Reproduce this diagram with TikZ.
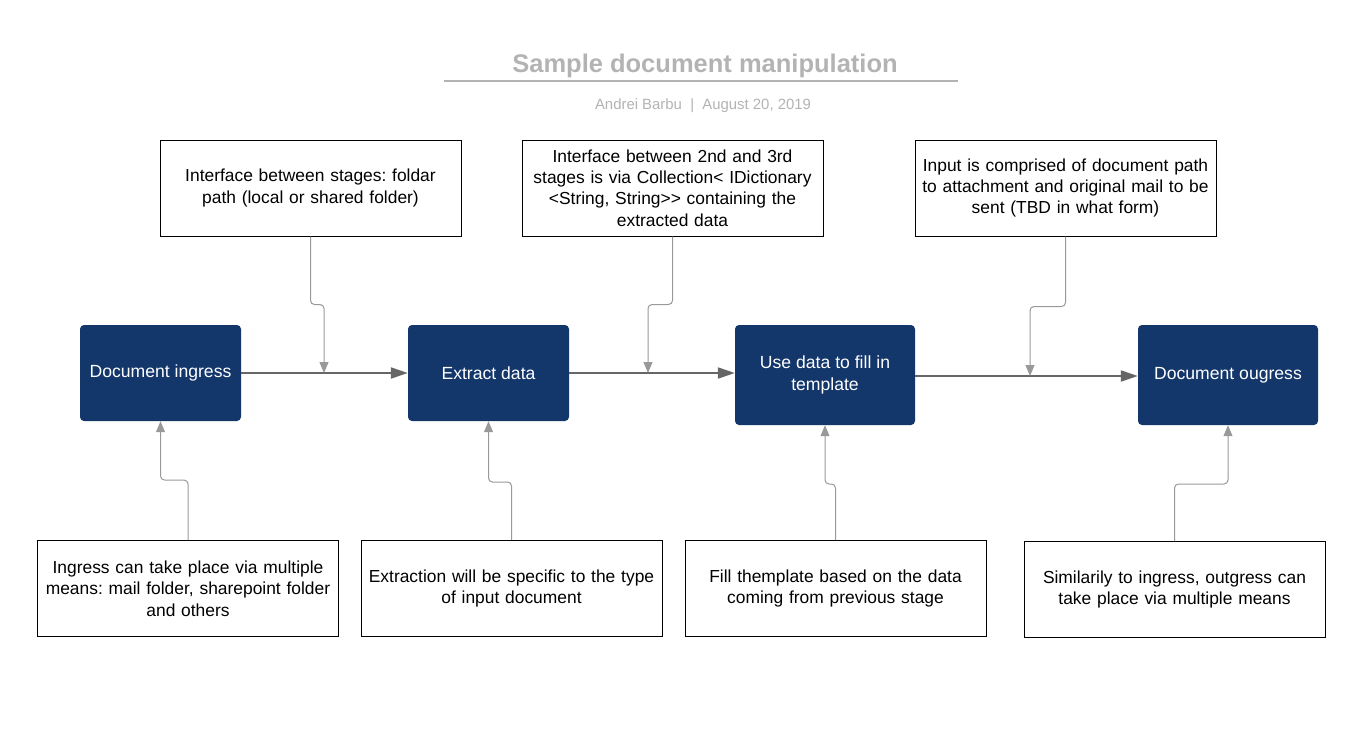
\documentclass[tikz,border=0pt]{standalone}
\usepackage{fontspec}
\setmainfont{Liberation Sans}
\usetikzlibrary{arrows.meta}
\frenchspacing
\definecolor{navy}{HTML}{13366B}
\definecolor{maingray}{HTML}{666666}
\definecolor{conngray}{HTML}{999999}
\definecolor{titlegray}{HTML}{B3B3B3}
\begin{document}
\begin{tikzpicture}[x=1pt,y=-1pt,
  note/.style={draw=black,line width=1pt,fill=white,minimum width=301pt,minimum height=96pt,
    text width=300pt,align=center,font=\fontsize{17.4}{21.3}\selectfont,inner sep=0pt},
  stage/.style={fill=navy,rounded corners=4pt,text=white,align=center,
    font=\fontsize{17.6}{21.3}\selectfont,inner sep=0pt},
  mainarrow/.style={draw=maingray,line width=2pt,-{Triangle[length=17pt,width=11pt]}},
  conn/.style={draw=conngray,line width=1pt,rounded corners=4pt,-{Triangle[length=11pt,width=9pt]}}]
\useasboundingbox (0,0) rectangle (1365,750);

% title
\node[text=titlegray,font=\bfseries\fontsize{25.5}{30}\selectfont] (title) at (705,66) {Sample document manipulation};
\coordinate (tl) at (444,81);
\coordinate (tr) at (958,81);
\draw[draw=titlegray,line width=2pt] (tl) -- (tr);
\node[text=titlegray,font=\fontsize{14.9}{18}\selectfont] (sub) at (703,106) {Andrei Barbu~~|~~August 20, 2019};

% stages
\node[stage,minimum width=161pt,minimum height=96pt] (m1) at (160.5,373) {Document ingress};
\node[stage,minimum width=161pt,minimum height=96pt] (m2) at (488.5,373) {Extract data};
\node[stage,minimum width=180pt,minimum height=100pt] (m3) at (825,375) {Use data to fill in\\template};
\node[stage,minimum width=180pt,minimum height=100pt] (m4) at (1228,375) {Document ougress};

% top notes
\node[note] (t1) at (310.5,188) {Interface between stages: foldar\\path (local or shared folder)};
\node[note] (t2) at (672.5,188) {Interface between 2nd and 3rd\\stages is via Collection< IDictionary\\<String, String>{}> containing the\\extracted data};
\node[note] (t3) at (1065.5,188) {Input is comprised of document path\\to attachment and original mail to be\\sent (TBD in what form)};

% bottom notes
\node[note] (b1) at (188,588.5) {Ingress can take place via multiple\\means: mail folder, sharepoint folder\\and others};
\node[note] (b2) at (511.5,588.5) {Extraction will be specific to the type\\of input document};
\node[note] (b3) at (835.5,588.5) {Fill themplate based on the data\\coming from previous stage};
\node[note] (b4) at (1174.5,589.5) {Similarily to ingress, outgress can\\take place via multiple means};

% main arrows
\draw[mainarrow] (m1.east |- 0,373) -- (m2.west |- 0,373);
\draw[mainarrow] (m2.east |- 0,373) -- (m3.west |- 0,373);
\draw[mainarrow] (m3.east |- 0,376) -- (m4.west |- 0,376);

% junction points on main arrows
\coordinate (j1) at (324,373);
\coordinate (j2) at (648,373);
\coordinate (j3) at (1030,376);

% top connectors
\draw[conn] (t1.south) -- ++(0,68) -| (j1);
\draw[conn] (t2.south) -- ++(0,68) -| (j2);
\draw[conn] (t3.south) -- ++(0,70) -| (j3);

% bottom connectors
\draw[conn] (b1.north) -- ++(0,-60) -| (m1.south);
\draw[conn] (b2.north) -- ++(0,-58) -| (m2.south);
\draw[conn] (b3.north) -- ++(0,-56) -| (m3.south);
\draw[conn] (b4.north) -- ++(0,-57) -| (m4.south);
\end{tikzpicture}
\end{document}
